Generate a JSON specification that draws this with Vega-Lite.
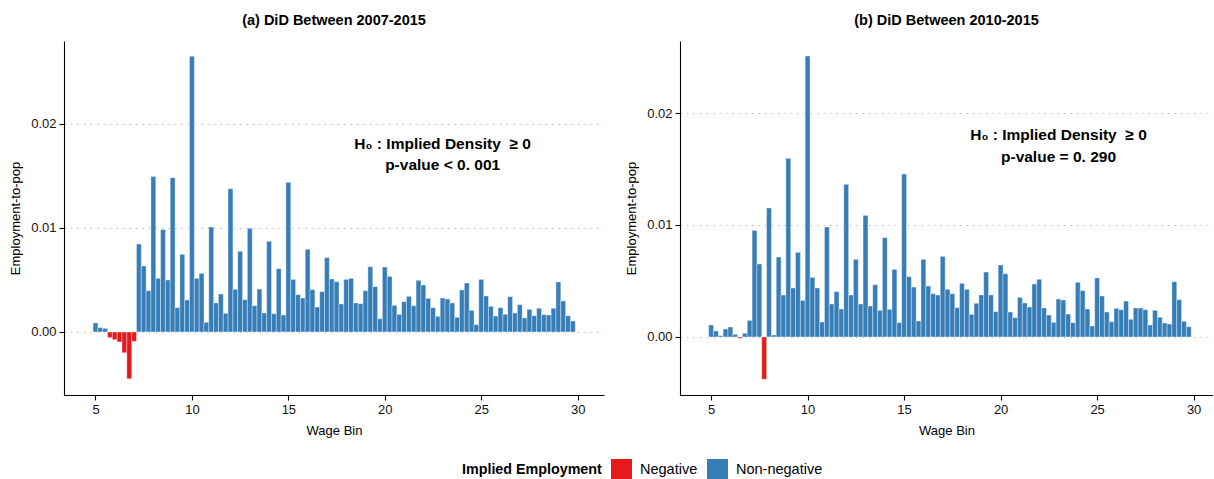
{
"$schema": "https://vega.github.io/schema/vega-lite/v6.json",
"padding": {"left": 9, "top": 12, "right": 0, "bottom": 0},
"autosize": {"type": "pad"},
"spacing": 21,
"datasets": {
"a": [
{"w":5.00,"v":0.00087,"s":"Non-negative"},{"w":5.25,"v":0.00042,"s":"Non-negative"},{"w":5.50,"v":0.00035,"s":"Non-negative"},{"w":5.75,"v":-0.00054,"s":"Negative"},
{"w":6.00,"v":-0.00074,"s":"Negative"},{"w":6.25,"v":-0.00096,"s":"Negative"},{"w":6.50,"v":-0.0020,"s":"Negative"},{"w":6.75,"v":-0.0045,"s":"Negative"},
{"w":7.00,"v":-0.0009,"s":"Negative"},{"w":7.25,"v":0.00846,"s":"Non-negative"},{"w":7.50,"v":0.00635,"s":"Non-negative"},{"w":7.75,"v":0.00397,"s":"Non-negative"},
{"w":8.00,"v":0.01494,"s":"Non-negative"},{"w":8.25,"v":0.00516,"s":"Non-negative"},{"w":8.50,"v":0.00984,"s":"Non-negative"},{"w":8.75,"v":0.00500,"s":"Non-negative"},
{"w":9.00,"v":0.01484,"s":"Non-negative"},{"w":9.25,"v":0.00234,"s":"Non-negative"},{"w":9.50,"v":0.00747,"s":"Non-negative"},{"w":9.75,"v":0.00308,"s":"Non-negative"},
{"w":10.00,"v":0.02651,"s":"Non-negative"},{"w":10.25,"v":0.00516,"s":"Non-negative"},{"w":10.50,"v":0.00564,"s":"Non-negative"},{"w":10.75,"v":0.00093,"s":"Non-negative"},
{"w":11.00,"v":0.01010,"s":"Non-negative"},{"w":11.25,"v":0.00279,"s":"Non-negative"},{"w":11.50,"v":0.00365,"s":"Non-negative"},{"w":11.75,"v":0.00180,"s":"Non-negative"},
{"w":12.00,"v":0.01378,"s":"Non-negative"},{"w":12.25,"v":0.00410,"s":"Non-negative"},{"w":12.50,"v":0.00776,"s":"Non-negative"},{"w":12.75,"v":0.00311,"s":"Non-negative"},
{"w":13.00,"v":0.00997,"s":"Non-negative"},{"w":13.25,"v":0.00253,"s":"Non-negative"},{"w":13.50,"v":0.00413,"s":"Non-negative"},{"w":13.75,"v":0.00183,"s":"Non-negative"},
{"w":14.00,"v":0.00872,"s":"Non-negative"},{"w":14.25,"v":0.00176,"s":"Non-negative"},{"w":14.50,"v":0.00609,"s":"Non-negative"},{"w":14.75,"v":0.00163,"s":"Non-negative"},
{"w":15.00,"v":0.01439,"s":"Non-negative"},{"w":15.25,"v":0.00506,"s":"Non-negative"},{"w":15.50,"v":0.00359,"s":"Non-negative"},{"w":15.75,"v":0.00327,"s":"Non-negative"},
{"w":16.00,"v":0.00795,"s":"Non-negative"},{"w":16.25,"v":0.00407,"s":"Non-negative"},{"w":16.50,"v":0.00240,"s":"Non-negative"},{"w":16.75,"v":0.00388,"s":"Non-negative"},
{"w":17.00,"v":0.00715,"s":"Non-negative"},{"w":17.25,"v":0.00510,"s":"Non-negative"},{"w":17.50,"v":0.00484,"s":"Non-negative"},{"w":17.75,"v":0.00270,"s":"Non-negative"},
{"w":18.00,"v":0.00506,"s":"Non-negative"},{"w":18.25,"v":0.00516,"s":"Non-negative"},{"w":18.50,"v":0.00279,"s":"Non-negative"},{"w":18.75,"v":0.00272,"s":"Non-negative"},
{"w":19.00,"v":0.00397,"s":"Non-negative"},{"w":19.25,"v":0.00628,"s":"Non-negative"},{"w":19.50,"v":0.00436,"s":"Non-negative"},{"w":19.75,"v":0.00128,"s":"Non-negative"},
{"w":20.00,"v":0.00625,"s":"Non-negative"},{"w":20.25,"v":0.00535,"s":"Non-negative"},{"w":20.50,"v":0.00256,"s":"Non-negative"},{"w":20.75,"v":0.00170,"s":"Non-negative"},
{"w":21.00,"v":0.00292,"s":"Non-negative"},{"w":21.25,"v":0.00343,"s":"Non-negative"},{"w":21.50,"v":0.00253,"s":"Non-negative"},{"w":21.75,"v":0.00497,"s":"Non-negative"},
{"w":22.00,"v":0.00452,"s":"Non-negative"},{"w":22.25,"v":0.00324,"s":"Non-negative"},{"w":22.50,"v":0.00234,"s":"Non-negative"},{"w":22.75,"v":0.00151,"s":"Non-negative"},
{"w":23.00,"v":0.00327,"s":"Non-negative"},{"w":23.25,"v":0.00317,"s":"Non-negative"},{"w":23.50,"v":0.00279,"s":"Non-negative"},{"w":23.75,"v":0.00141,"s":"Non-negative"},
{"w":24.00,"v":0.00404,"s":"Non-negative"},{"w":24.25,"v":0.00471,"s":"Non-negative"},{"w":24.50,"v":0.00208,"s":"Non-negative"},{"w":24.75,"v":0.00071,"s":"Non-negative"},
{"w":25.00,"v":0.00506,"s":"Non-negative"},{"w":25.25,"v":0.00346,"s":"Non-negative"},{"w":25.50,"v":0.00247,"s":"Non-negative"},{"w":25.75,"v":0.00154,"s":"Non-negative"},
{"w":26.00,"v":0.00234,"s":"Non-negative"},{"w":26.25,"v":0.00170,"s":"Non-negative"},{"w":26.50,"v":0.00340,"s":"Non-negative"},{"w":26.75,"v":0.00183,"s":"Non-negative"},
{"w":27.00,"v":0.00263,"s":"Non-negative"},{"w":27.25,"v":0.00135,"s":"Non-negative"},{"w":27.50,"v":0.00218,"s":"Non-negative"},{"w":27.75,"v":0.00157,"s":"Non-negative"},
{"w":28.00,"v":0.00228,"s":"Non-negative"},{"w":28.25,"v":0.00167,"s":"Non-negative"},{"w":28.50,"v":0.00163,"s":"Non-negative"},{"w":28.75,"v":0.00228,"s":"Non-negative"},
{"w":29.00,"v":0.00481,"s":"Non-negative"},{"w":29.25,"v":0.00298,"s":"Non-negative"},{"w":29.50,"v":0.00157,"s":"Non-negative"},{"w":29.75,"v":0.00106,"s":"Non-negative"}
],
"b": [
{"w":5.00,"v":0.00107,"s":"Non-negative"},{"w":5.25,"v":0.00054,"s":"Non-negative"},{"w":5.50,"v":0.00012,"s":"Non-negative"},{"w":5.75,"v":0.00071,"s":"Non-negative"},
{"w":6.00,"v":0.00089,"s":"Non-negative"},{"w":6.25,"v":0.00024,"s":"Non-negative"},{"w":6.50,"v":-0.00012,"s":"Negative"},{"w":6.75,"v":0.00033,"s":"Non-negative"},
{"w":7.00,"v":0.00149,"s":"Non-negative"},{"w":7.25,"v":0.00952,"s":"Non-negative"},{"w":7.50,"v":0.00652,"s":"Non-negative"},{"w":7.75,"v":-0.00378,"s":"Negative"},
{"w":8.00,"v":0.01152,"s":"Non-negative"},{"w":8.25,"v":0.00018,"s":"Non-negative"},{"w":8.50,"v":0.00714,"s":"Non-negative"},{"w":8.75,"v":0.00375,"s":"Non-negative"},
{"w":9.00,"v":0.01595,"s":"Non-negative"},{"w":9.25,"v":0.00438,"s":"Non-negative"},{"w":9.50,"v":0.00756,"s":"Non-negative"},{"w":9.75,"v":0.00327,"s":"Non-negative"},
{"w":10.00,"v":0.02509,"s":"Non-negative"},{"w":10.25,"v":0.00533,"s":"Non-negative"},{"w":10.50,"v":0.00438,"s":"Non-negative"},{"w":10.75,"v":0.00134,"s":"Non-negative"},
{"w":11.00,"v":0.00982,"s":"Non-negative"},{"w":11.25,"v":0.00295,"s":"Non-negative"},{"w":11.50,"v":0.00405,"s":"Non-negative"},{"w":11.75,"v":0.00250,"s":"Non-negative"},
{"w":12.00,"v":0.01363,"s":"Non-negative"},{"w":12.25,"v":0.00375,"s":"Non-negative"},{"w":12.50,"v":0.00693,"s":"Non-negative"},{"w":12.75,"v":0.00295,"s":"Non-negative"},
{"w":13.00,"v":0.01086,"s":"Non-negative"},{"w":13.25,"v":0.00277,"s":"Non-negative"},{"w":13.50,"v":0.00467,"s":"Non-negative"},{"w":13.75,"v":0.00238,"s":"Non-negative"},
{"w":14.00,"v":0.00887,"s":"Non-negative"},{"w":14.25,"v":0.00247,"s":"Non-negative"},{"w":14.50,"v":0.00604,"s":"Non-negative"},{"w":14.75,"v":0.00128,"s":"Non-negative"},
{"w":15.00,"v":0.01455,"s":"Non-negative"},{"w":15.25,"v":0.00539,"s":"Non-negative"},{"w":15.50,"v":0.00446,"s":"Non-negative"},{"w":15.75,"v":0.00143,"s":"Non-negative"},
{"w":16.00,"v":0.00693,"s":"Non-negative"},{"w":16.25,"v":0.00455,"s":"Non-negative"},{"w":16.50,"v":0.00387,"s":"Non-negative"},{"w":16.75,"v":0.00375,"s":"Non-negative"},
{"w":17.00,"v":0.00720,"s":"Non-negative"},{"w":17.25,"v":0.00426,"s":"Non-negative"},{"w":17.50,"v":0.00387,"s":"Non-negative"},{"w":17.75,"v":0.00262,"s":"Non-negative"},
{"w":18.00,"v":0.00479,"s":"Non-negative"},{"w":18.25,"v":0.00426,"s":"Non-negative"},{"w":18.50,"v":0.00202,"s":"Non-negative"},{"w":18.75,"v":0.00301,"s":"Non-negative"},
{"w":19.00,"v":0.00375,"s":"Non-negative"},{"w":19.25,"v":0.00580,"s":"Non-negative"},{"w":19.50,"v":0.00375,"s":"Non-negative"},{"w":19.75,"v":0.00226,"s":"Non-negative"},
{"w":20.00,"v":0.00643,"s":"Non-negative"},{"w":20.25,"v":0.00565,"s":"Non-negative"},{"w":20.50,"v":0.00223,"s":"Non-negative"},{"w":20.75,"v":0.00173,"s":"Non-negative"},
{"w":21.00,"v":0.00354,"s":"Non-negative"},{"w":21.25,"v":0.00304,"s":"Non-negative"},{"w":21.50,"v":0.00268,"s":"Non-negative"},{"w":21.75,"v":0.00473,"s":"Non-negative"},
{"w":22.00,"v":0.00515,"s":"Non-negative"},{"w":22.25,"v":0.00259,"s":"Non-negative"},{"w":22.50,"v":0.00196,"s":"Non-negative"},{"w":22.75,"v":0.00131,"s":"Non-negative"},
{"w":23.00,"v":0.00339,"s":"Non-negative"},{"w":23.25,"v":0.00330,"s":"Non-negative"},{"w":23.50,"v":0.00205,"s":"Non-negative"},{"w":23.75,"v":0.00128,"s":"Non-negative"},
{"w":24.00,"v":0.00488,"s":"Non-negative"},{"w":24.25,"v":0.00414,"s":"Non-negative"},{"w":24.50,"v":0.00250,"s":"Non-negative"},{"w":24.75,"v":0.00098,"s":"Non-negative"},
{"w":25.00,"v":0.00527,"s":"Non-negative"},{"w":25.25,"v":0.00366,"s":"Non-negative"},{"w":25.50,"v":0.00223,"s":"Non-negative"},{"w":25.75,"v":0.00137,"s":"Non-negative"},
{"w":26.00,"v":0.00256,"s":"Non-negative"},{"w":26.25,"v":0.00244,"s":"Non-negative"},{"w":26.50,"v":0.00321,"s":"Non-negative"},{"w":26.75,"v":0.00158,"s":"Non-negative"},
{"w":27.00,"v":0.00259,"s":"Non-negative"},{"w":27.25,"v":0.00259,"s":"Non-negative"},{"w":27.50,"v":0.00244,"s":"Non-negative"},{"w":27.75,"v":0.00107,"s":"Non-negative"},
{"w":28.00,"v":0.00238,"s":"Non-negative"},{"w":28.25,"v":0.00176,"s":"Non-negative"},{"w":28.50,"v":0.00125,"s":"Non-negative"},{"w":28.75,"v":0.00116,"s":"Non-negative"},
{"w":29.00,"v":0.00494,"s":"Non-negative"},{"w":29.25,"v":0.00333,"s":"Non-negative"},{"w":29.50,"v":0.00140,"s":"Non-negative"},{"w":29.75,"v":0.00092,"s":"Non-negative"}
],
"ta": [{"x":23,"y":0.01808,"t":"H₀ : Implied Density \u00a0≥ 0"},{"x":23,"y":0.01606,"t":"p-value < 0. 001"}],
"tb": [{"x":23,"y":0.01804,"t":"H₀ : Implied Density \u00a0≥ 0"},{"x":23,"y":0.01607,"t":"p-value = 0. 290"}]
},
"hconcat": [
{
"width": 540, "height": 354,
"title": "(a) DiD Between 2007-2015",
"layer": [
{"data": {"name": "a"},
 "mark": {"type": "bar", "width": 4.9, "stroke": "white", "strokeWidth": 0.4},
 "encoding": {
  "x": {"field": "w", "type": "quantitative", "scale": {"domain": [3.626, 31.107], "nice": false, "zero": false}, "axis": {"values": [5,10,15,20,25,30], "title": "Wage Bin"}},
  "y": {"field": "v", "type": "quantitative", "stack": null, "scale": {"domain": [-0.00606, 0.02798], "nice": false}, "axis": {"values": [0, 0.01, 0.02], "format": ".2f", "title": "Employment-to-pop"}},
  "color": {"field": "s", "type": "nominal", "scale": {"domain": ["Negative", "Non-negative"], "range": ["#E41A1C", "#377EB8"]},
    "legend": {"orient": "none", "legendX": 398, "legendY": 418, "direction": "horizontal", "titleOrient": "left", "title": "Implied Employment"}}
 }},
{"data": {"name": "ta"},
 "mark": {"type": "text", "fontWeight": "bold", "fontSize": 15.5, "align": "center", "baseline": "middle", "color": "black"},
 "encoding": {"x": {"field": "x", "type": "quantitative"}, "y": {"field": "y", "type": "quantitative"}, "text": {"field": "t"}}}
]
},
{
"width": 533, "height": 354,
"title": "(b) DiD Between 2010-2015",
"layer": [
{"data": {"name": "b"},
 "mark": {"type": "bar", "width": 4.9, "stroke": "white", "strokeWidth": 0.4},
 "encoding": {
  "x": {"field": "w", "type": "quantitative", "scale": {"domain": [3.648, 30.745], "nice": false, "zero": false}, "axis": {"values": [5,10,15,20,25,30], "title": "Wage Bin"}},
  "y": {"field": "v", "type": "quantitative", "stack": null, "scale": {"domain": [-0.00518, 0.02643], "nice": false}, "axis": {"values": [0, 0.01, 0.02], "format": ".2f", "title": "Employment-to-pop"}},
  "color": {"field": "s", "type": "nominal", "scale": {"domain": ["Negative", "Non-negative"], "range": ["#E41A1C", "#377EB8"]},
    "legend": {"orient": "none", "legendX": 398, "legendY": 418, "direction": "horizontal", "titleOrient": "left", "title": "Implied Employment"}}
 }},
{"data": {"name": "tb"},
 "mark": {"type": "text", "fontWeight": "bold", "fontSize": 15.5, "align": "center", "baseline": "middle", "color": "black"},
 "encoding": {"x": {"field": "x", "type": "quantitative"}, "y": {"field": "y", "type": "quantitative"}, "text": {"field": "t"}}}
]
}
],
"resolve": {"scale": {"x": "independent", "y": "independent"}},
"config": {
 "font": "Liberation Sans",
 "view": {"stroke": null},
 "title": {"fontSize": 14.5, "fontWeight": "bold", "anchor": "middle", "offset": 13, "color": "black"},
 "axis": {"domainColor": "black", "domainWidth": 1.1, "tickColor": "black", "tickWidth": 1.1, "tickSize": 5, "labelColor": "#111111", "labelFontSize": 13, "titleFontSize": 13, "titleFontWeight": "normal", "titleColor": "black", "labelPadding": 3, "grid": false},
 "axisY": {"grid": true, "gridDash": [1.5, 5], "gridColor": "#bbbbbb", "gridWidth": 1, "titlePadding": 8},
 "axisX": {"titlePadding": 8},
 "legend": {"symbolType": "square", "symbolSize": 441, "symbolStrokeWidth": 0, "labelFontSize": 14.5, "titleFontSize": 14.3, "titleFontWeight": "bold", "titleColor": "black", "labelColor": "black", "columnPadding": 9, "labelOffset": 8, "titlePadding": 9}
}
}
